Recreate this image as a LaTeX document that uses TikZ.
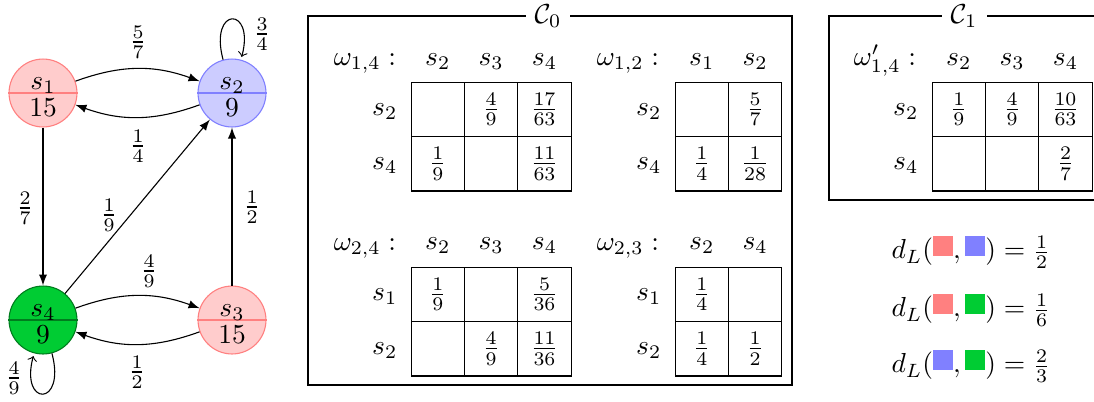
\documentclass[tikz,border=0pt]{standalone}
\usepackage{amsmath}
\usetikzlibrary{matrix,calc,arrows}
\definecolor{myred}{RGB}{255,128,128}
\definecolor{myredfill}{RGB}{255,204,204}
\definecolor{myblue}{RGB}{128,128,255}
\definecolor{mybluefill}{RGB}{204,204,255}
\definecolor{mygreen}{RGB}{0,204,51}
\definecolor{mygreendark}{RGB}{0,125,30}
\newcommand{\colsq}[1]{\textcolor{#1}{\rule[1.2pt]{7.3pt}{7.3pt}}}
\begin{document}
\begin{tikzpicture}[x=0.36364pt,y=0.36364pt,
  st/.style={circle, draw, minimum size=24.7pt, inner sep=0pt},
  redst/.style={st, draw=myred, fill=myredfill},
  bluest/.style={st, draw=myblue, fill=mybluefill},
  greenst/.style={st, draw=mygreendark, fill=mygreen},
  top/.style={anchor=base, inner sep=0pt},
  arr/.style={-latex},
  lp/.style={->},
  frame/.style={thick},
  ttl/.style={fill=white, inner sep=3.3pt},
  tab/.style={matrix of math nodes, nodes in empty cells, anchor=north west,
    column sep=-0.4pt, row sep=-0.4pt, inner sep=0pt,
    nodes={draw, minimum width=19.4pt, minimum height=19.8pt, inner sep=0pt, anchor=center}},
  hdr/.style={anchor=base, inner sep=0pt},
  wlab/.style={anchor=base east, inner sep=0pt},
  rlab/.style={inner sep=0pt},
]
\clip (0,0) rectangle (1094,-401);

% ---------- graph ----------
\node[redst] (s1) at (43,-93) {};
\node[bluest] (s2) at (232,-93) {};
\node[greenst] (s4) at (43,-320) {};
\node[redst] (s3) at (232,-320) {};
\draw[myred] (s1.west) -- (s1.east);
\draw[myblue] (s2.west) -- (s2.east);
\draw[mygreendark] (s4.west) -- (s4.east);
\draw[myred] (s3.west) -- (s3.east);
\node[top] (s1u) at (43,-89) {$s_1$};
\node[top] (s1l) at (43,-116) {$15$};
\node[top] (s2u) at (232,-89) {$s_2$};
\node[top] (s2l) at (232,-116) {$9$};
\node[top] (s4u) at (43,-316) {$s_4$};
\node[top] (s4l) at (43,-343) {$9$};
\node[top] (s3u) at (232,-316) {$s_3$};
\node[top] (s3l) at (232,-343) {$15$};

\draw[arr] (s1) to[bend left=20] (s2);
\draw[arr] (s2) to[bend left=20] (s1);
\draw[arr] (s4) to[bend left=20] (s3);
\draw[arr] (s3) to[bend left=20] (s4);
\draw[arr] (s1) -- (s4);
\draw[arr] (s4) -- (s2);
\draw[arr] (s3) -- (s2);
\draw[lp] (s2) edge[loop above] (s2);
\draw[lp] (s4) edge[loop below] (s4);

\node (l57) at (138,-42) {$\frac{5}{7}$};
\node (l14) at (138,-146) {$\frac{1}{4}$};
\node (l34) at (262,-34) {$\frac{3}{4}$};
\node (l27) at (25,-208) {$\frac{2}{7}$};
\node (l19) at (109,-215) {$\frac{1}{9}$};
\node (l12a) at (252,-207) {$\frac{1}{2}$};
\node (l49) at (149,-271) {$\frac{4}{9}$};
\node (l12b) at (137,-372) {$\frac{1}{2}$};
\node (l49b) at (14,-378) {$\frac{4}{9}$};

% ---------- C0 ----------
\draw[frame] (308,-16) rectangle (792,-385);
\node[ttl] (c0) at (548,-16) {$\mathcal{C}_0$};

\matrix (wa) [tab] at (410,-81) {
  & \frac{4}{9} & \frac{17}{63} \\
  \frac{1}{9} & & \frac{11}{63} \\
};
\node[wlab] (wal) at ($(wa-1-1.north west)+(-14,-15)+(0,31)$) {$\omega_{1,4}:$};
\node[hdr] (wah1) at ($(wa-1-1.north)+(0,16)$) {$s_2$};
\node[hdr] (wah2) at ($(wa-1-2.north)+(0,16)$) {$s_3$};
\node[hdr] (wah3) at ($(wa-1-3.north)+(0,16)$) {$s_4$};
\node[rlab] (war1) at ($(wa-1-1.center)+(-53,-2)$) {$s_2$};
\node[rlab] (war2) at ($(wa-2-1.center)+(-53,-2)$) {$s_4$};

\matrix (wb) [tab] at (674,-81) {
  & \frac{5}{7} \\
  \frac{1}{4} & \frac{1}{28} \\
};
\node[wlab] (wbl) at ($(wb-1-1.north west)+(-15,16)$) {$\omega_{1,2}:$};
\node[hdr] (wbh1) at ($(wb-1-1.north)+(0,16)$) {$s_1$};
\node[hdr] (wbh2) at ($(wb-1-2.north)+(0,16)$) {$s_2$};
\node[rlab] (wbr1) at ($(wb-1-1.center)+(-53,-2)$) {$s_2$};
\node[rlab] (wbr2) at ($(wb-2-1.center)+(-53,-2)$) {$s_4$};

\matrix (wc) [tab] at (410,-266) {
  \frac{1}{9} & & \frac{5}{36} \\
  & \frac{4}{9} & \frac{11}{36} \\
};
\node[wlab] (wcl) at ($(wc-1-1.north west)+(-14,16)$) {$\omega_{2,4}:$};
\node[hdr] (wch1) at ($(wc-1-1.north)+(0,17)$) {$s_2$};
\node[hdr] (wch2) at ($(wc-1-2.north)+(0,17)$) {$s_3$};
\node[hdr] (wch3) at ($(wc-1-3.north)+(0,17)$) {$s_4$};
\node[rlab] (wcr1) at ($(wc-1-1.center)+(-53,-2)$) {$s_1$};
\node[rlab] (wcr2) at ($(wc-2-1.center)+(-53,-2)$) {$s_2$};

\matrix (wd) [tab] at (674,-266) {
  \frac{1}{4} & \\
  \frac{1}{4} & \frac{1}{2} \\
};
\node[wlab] (wdl) at ($(wd-1-1.north west)+(-15,16)$) {$\omega_{2,3}:$};
\node[hdr] (wdh1) at ($(wd-1-1.north)+(0,17)$) {$s_2$};
\node[hdr] (wdh2) at ($(wd-1-2.north)+(0,17)$) {$s_4$};
\node[rlab] (wdr1) at ($(wd-1-1.center)+(-53,-2)$) {$s_1$};
\node[rlab] (wdr2) at ($(wd-2-1.center)+(-53,-2)$) {$s_2$};

% ---------- C1 ----------
\draw[frame] (829,-16) rectangle (1100,-200);
\node[ttl] (c1) at (964,-16) {$\mathcal{C}_1$};

\matrix (we) [tab] at (931,-81) {
  \frac{1}{9} & \frac{4}{9} & \frac{10}{63} \\
  & & \frac{2}{7} \\
};
\node[wlab] (wel) at ($(we-1-1.north west)+(-15,16)$) {$\omega'_{1,4}:$};
\node[hdr] (weh1) at ($(we-1-1.north)+(0,16)$) {$s_2$};
\node[hdr] (weh2) at ($(we-1-2.north)+(0,16)$) {$s_3$};
\node[hdr] (weh3) at ($(we-1-3.north)+(0,16)$) {$s_4$};
\node[rlab] (wer1) at ($(we-1-1.center)+(-53,-2)$) {$s_2$};
\node[rlab] (wer2) at ($(we-2-1.center)+(-53,-2)$) {$s_4$};

% ---------- distances ----------
\node (d1) at (971,-252) {$d_L(\colsq{myred},\colsq{myblue}) = \frac{1}{2}$};
\node (d2) at (971,-310) {$d_L(\colsq{myred},\colsq{mygreen}) = \frac{1}{6}$};
\node (d3) at (971,-366) {$d_L(\colsq{myblue},\colsq{mygreen}) = \frac{2}{3}$};
\end{tikzpicture}
\end{document}
